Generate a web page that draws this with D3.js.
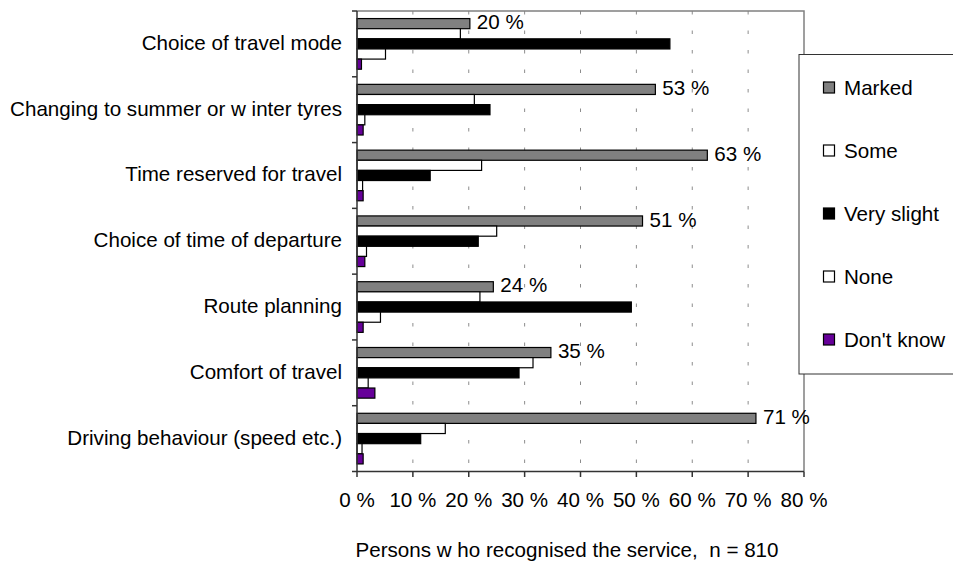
<!DOCTYPE html>
<html>
<head>
<meta charset="utf-8">
<script src="https://cdn.jsdelivr.net/npm/d3@7"></script>
<style>
body{margin:0;background:#fff;}
text{font-family:"Liberation Sans",Arial,sans-serif;fill:#000;white-space:pre;}
</style>
</head>
<body>
<div id="chart"></div>
<script>
var categories=["Choice of travel mode","Changing to summer or w inter tyres","Time reserved for travel","Choice of time of departure","Route planning","Comfort of travel","Driving behaviour (speed etc.)"];
var series=["Marked","Some","Very slight","None","Don't know"];
var marked=[20.2,53.4,62.7,51.1,24.4,34.7,71.4];
var some=[18.5,21.0,22.3,25.0,22.0,31.5,15.8];
var slight=[56.0,23.8,13.1,21.7,49.1,29.0,11.4];
var none=[5.1,1.4,1.0,1.7,4.2,2.0,0.9];
var dontknow=[0.8,1.1,1.1,1.4,1.1,3.2,1.1];
var markedLabels=["20 %","53 %","63 %","51 %","24 %","35 %","71 %"];
var xTicks=[0,10,20,30,40,50,60,70,80];
var colors=["#808080","#ffffff","#000000","#ffffff","#660099"];
var axisTitle="Persons w ho recognised the service,  n = 810";

var width=953,height=566;
var pLeft=357,pRight=804,pTop=11,pBottom=471.5;
var fs=20.6;

var svg=d3.select("#chart").append("svg")
	.attr("width",width).attr("height",height);

var x=d3.scaleLinear().domain([0,80]).range([pLeft,pRight]);
var y0=d3.scaleBand().domain(categories).range([pTop,pBottom]).paddingInner(0.23).paddingOuter(0.115);
var y1=d3.scaleBand().domain(series).range([0,y0.bandwidth()]);
var step=y0.step();

var rows=categories.map(function(c,i){
	return {cat:c,vals:[marked[i],some[i],slight[i],none[i],dontknow[i]],label:markedLabels[i]};
});

//==========grid lines===========
svg.append("g").selectAll("line").data(xTicks.slice(1,-1))
	.enter().append("line")
	.attr("x1",function(d){return x(d);}).attr("x2",function(d){return x(d);})
	.attr("y1",pTop).attr("y2",pBottom)
	.attr("stroke","#8c8c8c").attr("stroke-width",1)
	.attr("stroke-dasharray","3.5,16");

//==========frame (top + right)==========
svg.append("path")
	.attr("d","M"+pLeft+","+pTop+"H"+pRight+"V"+pBottom)
	.attr("fill","none").attr("stroke","#808080").attr("stroke-width",1.5);

//==========bars===========
var groups=svg.append("g").selectAll("g").data(rows)
	.enter().append("g")
	.attr("transform",function(d){return "translate(0,"+y0(d.cat)+")";});
groups.selectAll("rect").data(function(d){return d.vals.map(function(v,j){return {s:series[j],v:v,j:j};});})
	.enter().append("rect")
	.attr("x",x(0))
	.attr("y",function(d){return y1(d.s);})
	.attr("width",function(d){return x(d.v)-x(0);})
	.attr("height",y1.bandwidth())
	.attr("fill",function(d){return colors[d.j];})
	.attr("stroke","#000").attr("stroke-width",1.2);
groups.append("text")
	.attr("x",function(d){return x(d.vals[0])+7;})
	.attr("y",function(d){return y1("Marked")+y1.bandwidth()+0.5;})
	.attr("font-size",fs)
	.text(function(d){return d.label;});

//==========axes===========
var axisColor="#333";
svg.append("line").attr("x1",pLeft).attr("x2",pLeft).attr("y1",pTop).attr("y2",pBottom)
	.attr("stroke",axisColor).attr("stroke-width",1.5);
svg.append("line").attr("x1",pLeft-5).attr("x2",pRight).attr("y1",pBottom).attr("y2",pBottom)
	.attr("stroke",axisColor).attr("stroke-width",1.5);
// category boundary ticks
svg.append("g").selectAll("line").data(d3.range(categories.length))
	.enter().append("line")
	.attr("x1",pLeft-5).attr("x2",pLeft)
	.attr("y1",function(i){return y0(categories[i])-y0.paddingOuter()*step;})
	.attr("y2",function(i){return y0(categories[i])-y0.paddingOuter()*step;})
	.attr("stroke",axisColor).attr("stroke-width",1.5);
svg.append("g").selectAll("text").data(categories)
	.enter().append("text")
	.attr("x",pLeft-15)
	.attr("y",function(d){return y0(d)+y0.bandwidth()/2+6;})
	.attr("text-anchor","end").attr("font-size",fs)
	.text(function(d){return d;});
// x ticks
svg.append("g").selectAll("line").data(xTicks)
	.enter().append("line")
	.attr("x1",function(d){return x(d);}).attr("x2",function(d){return x(d);})
	.attr("y1",pBottom).attr("y2",pBottom+5.5)
	.attr("stroke",axisColor).attr("stroke-width",1.5);
svg.append("g").selectAll("text").data(xTicks)
	.enter().append("text")
	.attr("x",function(d){return x(d);})
	.attr("y",pBottom+35)
	.attr("text-anchor","middle").attr("font-size",fs)
	.text(function(d){return d+" %";});
svg.append("text")
	.attr("x",567).attr("y",556.5)
	.attr("text-anchor","middle").attr("font-size",fs)
	.text(axisTitle);

//==========legend===========
var lg=svg.append("g").attr("transform","translate(799,54.5)");
lg.append("rect").attr("x",0).attr("y",0).attr("width",200).attr("height",319.5)
	.attr("fill","#fff").attr("stroke","#333").attr("stroke-width",1);
var items=lg.selectAll("g").data(series)
	.enter().append("g")
	.attr("transform",function(d,i){return "translate(0,"+(33+63*i)+")";});
items.append("rect").attr("x",24.5).attr("y",-5.5).attr("width",11).attr("height",11)
	.attr("fill",function(d,i){return colors[i];})
	.attr("stroke","#000").attr("stroke-width",1.2);
items.append("text").attr("x",45).attr("y",7).attr("font-size",fs)
	.text(function(d){return d;});
</script>
</body>
</html>
